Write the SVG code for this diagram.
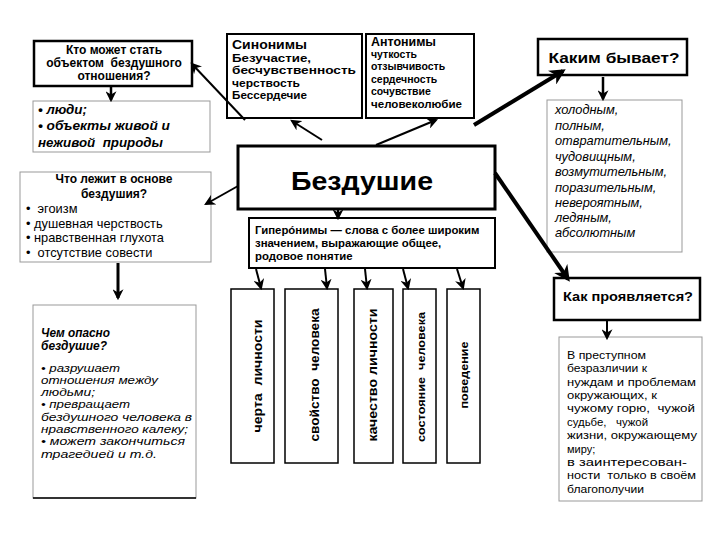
<svg xmlns="http://www.w3.org/2000/svg" width="720" height="540" viewBox="0 0 720 540">
<style>
.bg{fill:#fff}
.thick{fill:#fff;stroke:#000;stroke-width:2.5}
.mid{fill:#fff;stroke:#000;stroke-width:2}
.vb{fill:#fff;stroke:#000;stroke-width:1.5}
.thin{fill:#fff;stroke:#999;stroke-width:1}
text{font-family:"Liberation Sans",Arial,sans-serif;fill:#000}
.b{font-weight:bold}
.i{font-style:italic}
.c{text-anchor:middle}
.conn line{stroke:#000;fill:none}
</style>
<defs>
<marker id="ah" viewBox="0 0 10 10" refX="8" refY="5" markerWidth="11" markerHeight="11" markerUnits="userSpaceOnUse" orient="auto">
<path d="M0,0 L10,5 L0,10 L3,5 z" fill="#000"/>
</marker>
<marker id="ahb" viewBox="0 0 10 10" refX="8" refY="5" markerWidth="16" markerHeight="16" markerUnits="userSpaceOnUse" orient="auto">
<path d="M0,0 L10,5 L0,10 L3,5 z" fill="#000"/>
</marker>
</defs>
<rect class="bg" x="0" y="0" width="720" height="540"/>

<g id="who">
<rect class="thick" x="34" y="41" width="158" height="45"/>
<text class="b c" x="114" y="54" font-size="12">Кто может стать</text>
<text class="b c" x="114" y="67" font-size="12" xml:space="preserve">объектом  бездушного</text>
<text class="b c" x="114" y="80" font-size="12">отношения?</text>
</g>

<g id="who-list">
<rect class="thin" x="33" y="101" width="177" height="51"/>
<text class="b i" x="38" y="114" font-size="13.5" textLength="49" lengthAdjust="spacingAndGlyphs">• люди;</text>
<text class="b i" x="38" y="130" font-size="13.5" textLength="132" lengthAdjust="spacingAndGlyphs">• объекты живой и</text>
<text class="b i" x="38" y="147" font-size="13.5" xml:space="preserve" textLength="125" lengthAdjust="spacingAndGlyphs">неживой  природы</text>
</g>

<g id="synonyms">
<rect class="mid" x="227" y="34" width="135" height="84"/>
<text class="b" x="232" y="49" font-size="13" textLength="75" lengthAdjust="spacingAndGlyphs">Синонимы</text>
<text class="b" x="232" y="62" font-size="11" textLength="79" lengthAdjust="spacingAndGlyphs">Безучастие,</text>
<text class="b" x="232" y="74" font-size="11" textLength="124" lengthAdjust="spacingAndGlyphs">бесчувственность</text>
<text class="b" x="232" y="87" font-size="11" textLength="68" lengthAdjust="spacingAndGlyphs">черствость</text>
<text class="b" x="232" y="99" font-size="11" textLength="75" lengthAdjust="spacingAndGlyphs">Бессердечие</text>
</g>

<g id="antonyms">
<rect class="mid" x="366" y="34" width="108" height="84"/>
<text class="b" x="371" y="46" font-size="12" textLength="65" lengthAdjust="spacingAndGlyphs">Антонимы</text>
<text class="b" x="371" y="58" font-size="10.5">чуткость</text>
<text class="b" x="371" y="70" font-size="10.5">отзывчивость</text>
<text class="b" x="371" y="83" font-size="10.5">сердечность</text>
<text class="b" x="371" y="95" font-size="10.5">сочувствие</text>
<text class="b" x="371" y="108" font-size="10.5" textLength="91" lengthAdjust="spacingAndGlyphs">человеколюбие</text>
</g>

<g id="what-like">
<rect class="thick" x="538" y="39" width="149" height="36"/>
<text class="b c" x="614" y="63" font-size="15" textLength="131" lengthAdjust="spacingAndGlyphs">Каким бывает?</text>
</g>

<g id="what-like-list">
<rect class="thin" x="547" y="100" width="135" height="152"/>
<text class="i" x="555" y="114" font-size="12.8">холодным,</text>
<text class="i" x="555" y="130" font-size="12.8">полным,</text>
<text class="i" x="555" y="145" font-size="12.8">отвратительным,</text>
<text class="i" x="555" y="161" font-size="12.8">чудовищным,</text>
<text class="i" x="555" y="176" font-size="12.8">возмутительным,</text>
<text class="i" x="555" y="192" font-size="12.8">поразительным,</text>
<text class="i" x="555" y="207" font-size="12.8">невероятным,</text>
<text class="i" x="555" y="222" font-size="12.8">ледяным,</text>
<text class="i" x="555" y="237" font-size="12.8">абсолютным</text>
</g>

<g id="center">
<rect fill="#fff" stroke="#000" stroke-width="3" x="238" y="146" width="257" height="63"/>
<text class="b c" x="362" y="190" font-size="26" textLength="142" lengthAdjust="spacingAndGlyphs">Бездушие</text>
</g>

<g id="hyperonyms">
<rect class="mid" x="249" y="218" width="246" height="50"/>
<text class="b" x="255" y="234" font-size="11.4">Гиперóнимы — слова с более широким</text>
<text class="b" x="255" y="247" font-size="11.4">значением, выражающие общее,</text>
<text class="b" x="255" y="260" font-size="11.4">родовое понятие</text>
</g>

<g id="basis">
<rect class="thin" x="20" y="172" width="191" height="90"/>
<text class="b c" x="114" y="183" font-size="12">Что лежит в основе</text>
<text class="b c" x="114" y="198" font-size="12">бездушия?</text>
<text x="26" y="213" font-size="12.8" xml:space="preserve">•  эгоизм</text>
<text x="26" y="228" font-size="12.8">• душевная черствость</text>
<text x="26" y="242" font-size="12.8">• нравственная глухота</text>
<text x="26" y="257" font-size="12.8" xml:space="preserve">•  отсутствие совести</text>
</g>

<g id="danger">
<rect class="thin" x="33" y="305" width="163" height="193"/>
<line x1="33" y1="498" x2="196" y2="498" stroke="#000" stroke-width="1.5"/>
<text class="b i" x="41" y="337" font-size="12" textLength="69" lengthAdjust="spacingAndGlyphs">Чем опасно</text>
<text class="b i" x="41" y="350" font-size="12" textLength="66" lengthAdjust="spacingAndGlyphs">бездушие?</text>
<text class="i" x="41" y="372" font-size="11" textLength="79" lengthAdjust="spacingAndGlyphs">• разрушает</text>
<text class="i" x="41" y="384" font-size="11" textLength="117" lengthAdjust="spacingAndGlyphs">отношения между</text>
<text class="i" x="41" y="396" font-size="11" textLength="54" lengthAdjust="spacingAndGlyphs">людьми;</text>
<text class="i" x="41" y="408" font-size="11" textLength="89" lengthAdjust="spacingAndGlyphs">• превращает</text>
<text class="i" x="41" y="421" font-size="11" textLength="151" lengthAdjust="spacingAndGlyphs">бездушного человека в</text>
<text class="i" x="41" y="433" font-size="11" textLength="147" lengthAdjust="spacingAndGlyphs">нравственного калеку;</text>
<text class="i" x="41" y="445" font-size="11" textLength="144" lengthAdjust="spacingAndGlyphs">• может закончиться</text>
<text class="i" x="41" y="458" font-size="11" textLength="116" lengthAdjust="spacingAndGlyphs">трагедией и т.д.</text>
</g>

<g id="how">
<rect class="thick" x="554" y="278" width="146" height="42"/>
<text class="b c" x="628" y="301" font-size="13.5" textLength="130" lengthAdjust="spacingAndGlyphs">Как проявляется?</text>
</g>

<g id="how-list">
<rect class="thin" x="559" y="337" width="143" height="164"/>
<text x="567" y="359" font-size="11" textLength="79" lengthAdjust="spacingAndGlyphs">В преступном</text>
<text x="567" y="372" font-size="11" textLength="80" lengthAdjust="spacingAndGlyphs">безразличии к</text>
<text x="567" y="386" font-size="11" textLength="129" lengthAdjust="spacingAndGlyphs">нуждам и проблемам</text>
<text x="567" y="399" font-size="11" textLength="90" lengthAdjust="spacingAndGlyphs">окружающих, к</text>
<text x="567" y="412" font-size="11" xml:space="preserve" textLength="128" lengthAdjust="spacingAndGlyphs">чужому горю,  чужой</text>
<text x="567" y="426" font-size="11" xml:space="preserve" textLength="81" lengthAdjust="spacingAndGlyphs">судьбе,   чужой</text>
<text x="567" y="439" font-size="11" textLength="130" lengthAdjust="spacingAndGlyphs">жизни, окружающему</text>
<text x="567" y="453" font-size="11">миру;</text>
<text x="567" y="466" font-size="11" textLength="120" lengthAdjust="spacingAndGlyphs">в заинтересован-</text>
<text x="567" y="479" font-size="11" xml:space="preserve" textLength="129" lengthAdjust="spacingAndGlyphs">ности  только в своём</text>
<text x="567" y="493" font-size="11" textLength="77" lengthAdjust="spacingAndGlyphs">благополучии</text>
</g>

<g id="v1">
<rect class="vb" x="231" y="289" width="43" height="174"/>
<text class="b c" transform="translate(262,376) rotate(-90)" font-size="13" xml:space="preserve" textLength="113" lengthAdjust="spacingAndGlyphs">черта  личности</text>
</g>
<g id="v2">
<rect class="vb" x="285" y="289" width="53" height="174"/>
<text class="b c" transform="translate(319,375) rotate(-90)" font-size="13" xml:space="preserve" textLength="133" lengthAdjust="spacingAndGlyphs">свойство  человека</text>
</g>
<g id="v3">
<rect class="vb" x="354" y="289" width="39" height="174"/>
<text class="b c" transform="translate(377,375) rotate(-90)" font-size="13" textLength="133" lengthAdjust="spacingAndGlyphs">качество личности</text>
</g>
<g id="v4">
<rect class="vb" x="403" y="289" width="33" height="174"/>
<text class="b c" transform="translate(425,377) rotate(-90)" font-size="11.5" xml:space="preserve" textLength="130" lengthAdjust="spacingAndGlyphs">состояние  человека</text>
</g>
<g id="v5">
<rect class="vb" x="447" y="289" width="33" height="174"/>
<text class="b c" transform="translate(468,375) rotate(-90)" font-size="11.5" textLength="67" lengthAdjust="spacingAndGlyphs">поведение</text>
</g>

<g class="conn" id="connectors">
<line x1="111" y1="86" x2="111" y2="100" stroke-width="2.5" marker-end="url(#ah)"/>
<line x1="245" y1="120" x2="192" y2="64" stroke-width="2" marker-end="url(#ah)"/>
<line x1="322" y1="140" x2="292" y2="121" stroke-width="2" marker-end="url(#ah)"/>
<line x1="376" y1="145" x2="436" y2="120" stroke-width="2" marker-end="url(#ah)"/>
<line x1="474" y1="125" x2="563" y2="71" stroke-width="4" marker-end="url(#ahb)"/>
<line x1="603" y1="77" x2="603" y2="99" stroke-width="2.5" marker-end="url(#ah)"/>
<line x1="238" y1="186" x2="206" y2="204" stroke-width="2" marker-end="url(#ah)"/>
<line x1="118" y1="263" x2="118" y2="298" stroke-width="3" marker-end="url(#ah)"/>
<line x1="338" y1="209" x2="338" y2="218" stroke-width="2" marker-end="url(#ah)"/>
<line x1="256" y1="269" x2="261" y2="288" stroke-width="2" marker-end="url(#ah)"/>
<line x1="325" y1="269" x2="327" y2="288" stroke-width="2" marker-end="url(#ah)"/>
<line x1="365" y1="269" x2="367" y2="288" stroke-width="2" marker-end="url(#ah)"/>
<line x1="403" y1="269" x2="408" y2="288" stroke-width="2" marker-end="url(#ah)"/>
<line x1="457" y1="269" x2="463" y2="288" stroke-width="2" marker-end="url(#ah)"/>
<line x1="495" y1="173" x2="568" y2="279" stroke-width="4" marker-end="url(#ahb)"/>
<line x1="607" y1="320" x2="607" y2="338" stroke-width="2" marker-end="url(#ah)"/>
</g>
</svg>
